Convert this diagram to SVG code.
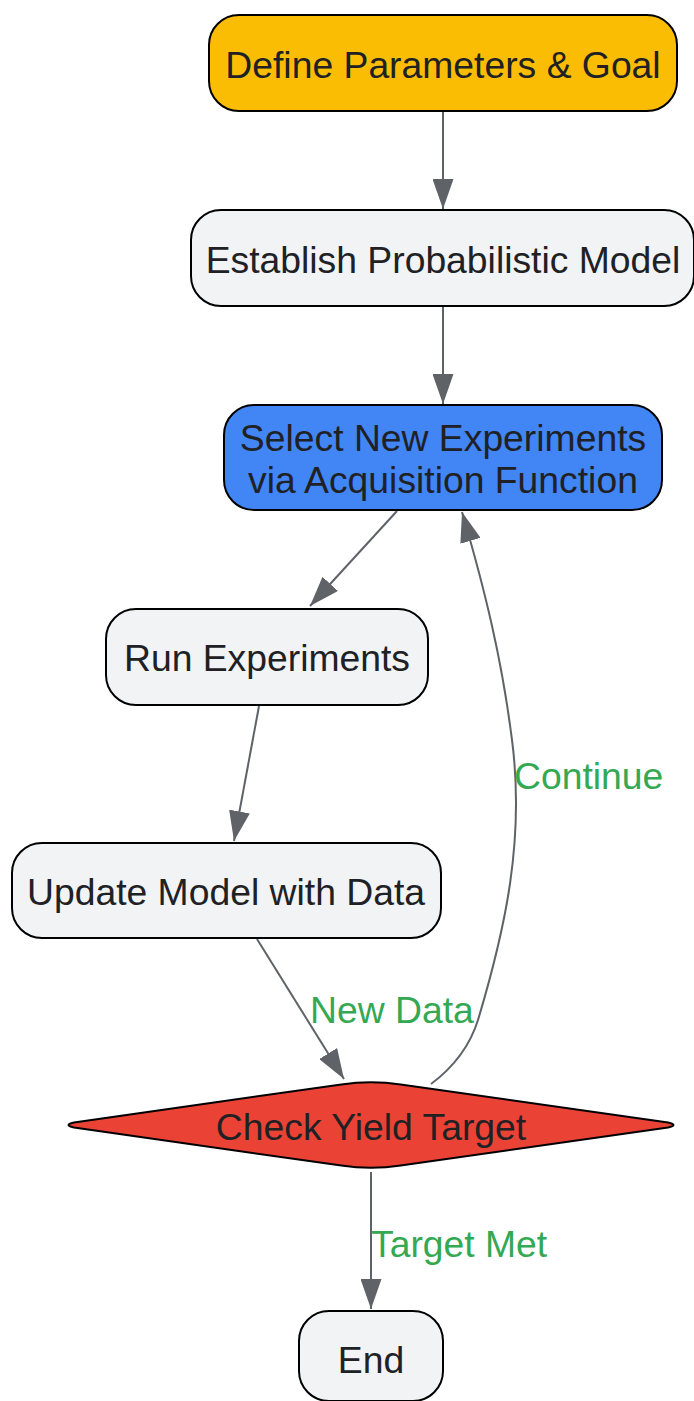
<svg xmlns="http://www.w3.org/2000/svg" width="694" height="1401" viewBox="0 0 694 1401">
<defs>
<style>
.n{stroke:#000;stroke-width:2}
.t{font-family:"Liberation Sans",Arial,sans-serif;font-size:37.3px;fill:#202124;text-anchor:middle}
.l{font-family:"Liberation Sans",Arial,sans-serif;font-size:37.3px;fill:#34a853}
.e{fill:none;stroke:#5f6368;stroke-width:2}
</style>
<marker id="arr" viewBox="0 0 30 21" refX="30" refY="10.5" markerWidth="30" markerHeight="21" markerUnits="userSpaceOnUse" orient="auto">
<path d="M0,0 L30,10.5 L0,21 z" fill="#5f6368"/>
</marker>
</defs>
<rect width="694" height="1401" fill="#fff"/>
<g id="edges">
<path class="e" d="M443,111 L443,209" marker-end="url(#arr)"/>
<path class="e" d="M443,306 L443,404" marker-end="url(#arr)"/>
<path class="e" d="M397,511 L310,606" marker-end="url(#arr)"/>
<path class="e" d="M259,706 L234,841" marker-end="url(#arr)"/>
<path class="e" d="M257,939 L344,1079" marker-end="url(#arr)"/>
<path class="e" d="M431,1084 Q466,1058 478,1020 C505,930 525,840 512,740 C502,660 485,590 462,512" marker-end="url(#arr)"/>
<path class="e" d="M371,1172 L371,1309" marker-end="url(#arr)"/>
<text class="l" x="310" y="1023">New Data</text>
<text class="l" x="514" y="789">Continue</text>
<text class="l" x="371" y="1257">Target Met</text>
</g>
<g id="define">
<rect class="n" x="209" y="15" width="468" height="96" rx="30" fill="#fbbc04"/>
<text class="t" x="443" y="78">Define Parameters &amp; Goal</text>
</g>
<g id="establish">
<rect class="n" x="191" y="210" width="503" height="96" rx="30" fill="#f1f3f4"/>
<text class="t" x="443" y="273">Establish Probabilistic Model</text>
</g>
<g id="select">
<rect class="n" x="224" y="405" width="438" height="105" rx="30" fill="#4285f4"/>
<text class="t" x="443" y="451">Select New Experiments</text>
<text class="t" x="443" y="493">via Acquisition Function</text>
</g>
<g id="run">
<rect class="n" x="106" y="609" width="322" height="96" rx="30" fill="#f1f3f4"/>
<text class="t" x="267" y="671">Run Experiments</text>
</g>
<g id="update">
<rect class="n" x="12" y="843" width="429" height="95" rx="30" fill="#f1f3f4"/>
<text class="t" x="226" y="905">Update Model with Data</text>
</g>
<g id="check">
<path class="n" fill="#ea4335" d="M74,1122.5 L341.3,1084.4 Q371,1080 400.7,1084.4 L668,1122.5 Q679,1125 668,1127.5 L400.7,1165.6 Q371,1170 341.3,1165.6 L74,1127.5 Q63,1125 74,1122.5 Z"/>
<text class="t" x="371" y="1140">Check Yield Target</text>
</g>
<g id="end">
<rect class="n" x="299" y="1311" width="144" height="90" rx="30" fill="#f1f3f4"/>
<text class="t" x="371" y="1373">End</text>
</g>
</svg>
